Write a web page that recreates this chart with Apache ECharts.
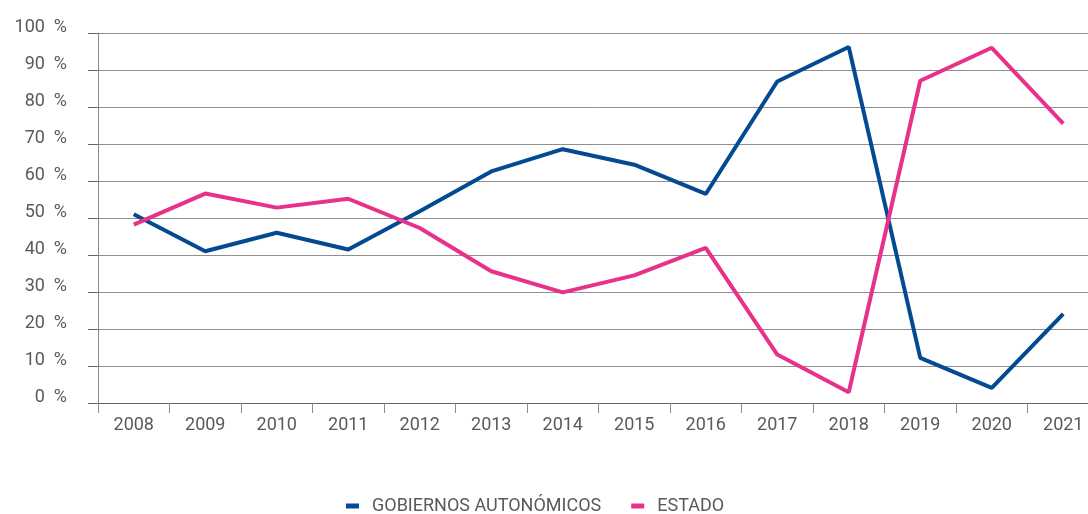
<!DOCTYPE html>
<html>
<head>
<meta charset="utf-8">
<script src="https://cdn.jsdelivr.net/npm/echarts@6/dist/echarts.min.js"></script>
<style>
    html, body { margin: 0; padding: 0; background: #fff; overflow: hidden; }
    /* el gráfico original se sale un poco por la derecha */
    #chart { width: 1099px; height: 514px; }
</style>
</head>
<body>
<div id="chart"></div>
<script>
    // datos
    let years = ['2008', '2009', '2010', '2011', '2012', '2013', '2014', '2015', '2016', '2017', '2018', '2019', '2020', '2021'];
    let gobiernos = [51, 41, 46, 41.5, 51.8, 62.6, 68.6, 64.4, 56.5, 86.9, 96.2, 12.2, 4.1, 24.1];
    let estado = [48.2, 56.6, 52.8, 55.2, 47.3, 35.6, 29.9, 34.5, 41.9, 13.1, 2.9, 87.1, 96, 75.5];

    let CHART = echarts.init(document.getElementById('chart'));

    let axisColor = '#8a8a8a';
    let textColor = '#5a5a5a';
    let fontFamily = 'Roboto, sans-serif';

    CHART.setOption({
        animation: false,
        color: ['#034a92', '#e8318b'],
        grid: {
            left: 98,
            right: 0,
            top: 33,
            bottom: 111
        },
        legend: {
            top: 497,
            left: 346,
            padding: 0,
            icon: 'rect',
            itemWidth: 13,
            itemHeight: 5,
            itemGap: 30,
            selectedMode: false,
            textStyle: {
                color: textColor,
                fontSize: 18,
                fontFamily: fontFamily,
                padding: [0, 0, 0, 8]
            },
            data: ['GOBIERNOS AUTONÓMICOS', 'ESTADO']
        },
        xAxis: {
            type: 'category',
            boundaryGap: true,
            data: years,
            axisLine: { show: true, lineStyle: { color: '#666', width: 1 } },
            axisTick: { show: true, length: 10, lineStyle: { color: axisColor } },
            axisLabel: {
                color: textColor,
                fontSize: 18,
                fontFamily: fontFamily,
                margin: 13
            },
            splitLine: { show: false }
        },
        yAxis: {
            type: 'value',
            min: 0,
            max: 100,
            interval: 10,
            axisLine: { show: true, lineStyle: { color: axisColor, width: 1 } },
            axisTick: { show: true, length: 10, lineStyle: { color: '#666' } },
            axisLabel: {
                color: textColor,
                fontSize: 18,
                fontFamily: fontFamily,
                margin: 31,
                // las etiquetas van un poco por encima de la línea
                verticalAlign: 'bottom',
                lineHeight: 12,
                formatter: '{value}  %'
            },
            splitLine: { show: true, lineStyle: { color: '#8f8f8f', width: 1 } }
        },
        series: [
            {
                name: 'GOBIERNOS AUTONÓMICOS',
                type: 'line',
                data: gobiernos,
                showSymbol: false,
                symbol: 'none',
                lineStyle: { width: 4 }
            },
            {
                name: 'ESTADO',
                type: 'line',
                data: estado,
                showSymbol: false,
                symbol: 'none',
                lineStyle: { width: 4 }
            }
        ]
    });
</script>
</body>
</html>
